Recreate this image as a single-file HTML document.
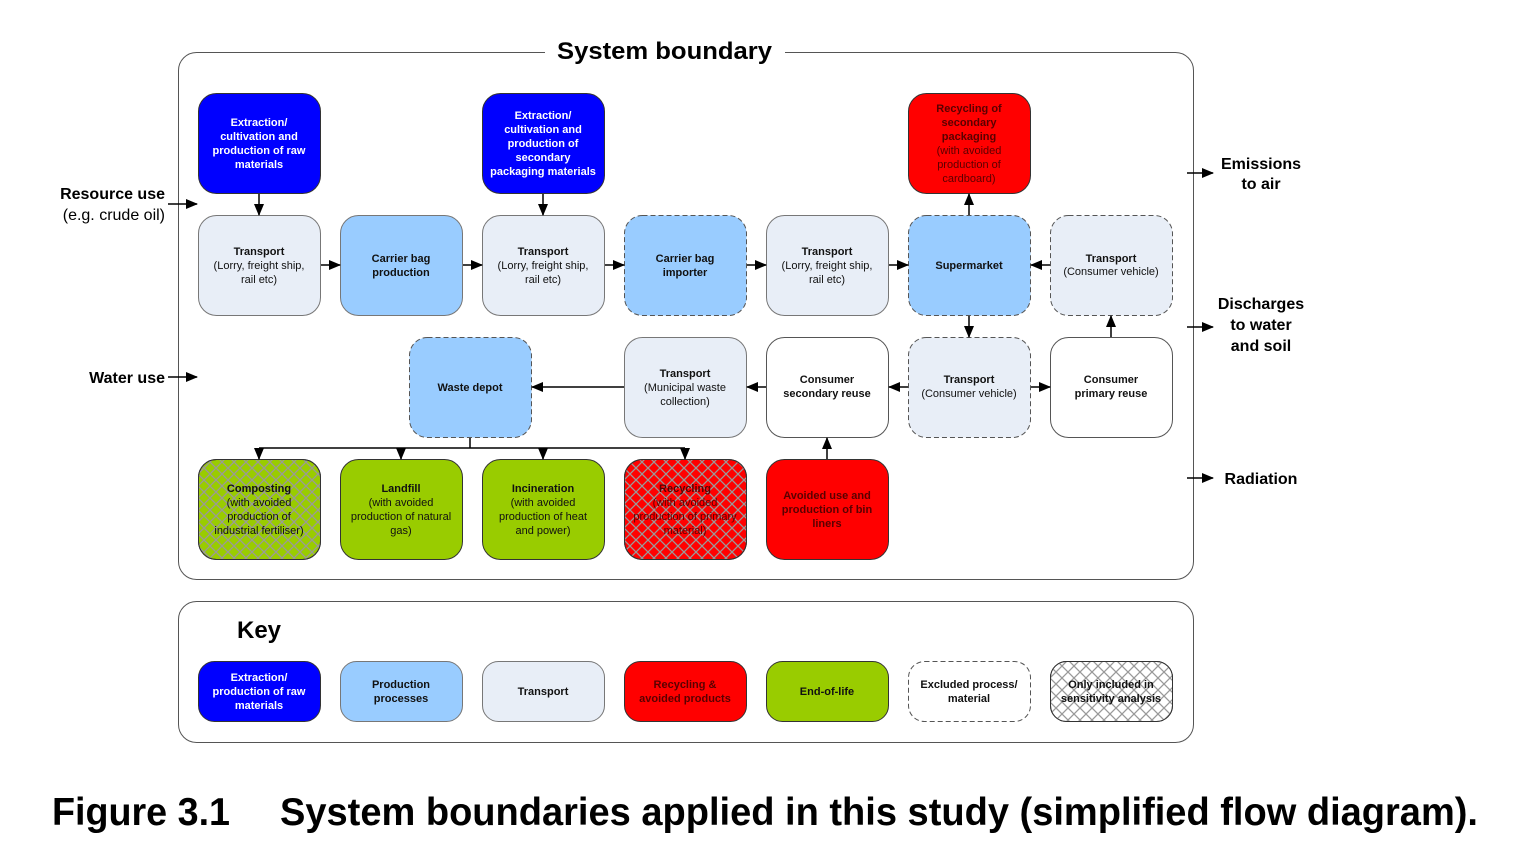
<!DOCTYPE html>
<html><head><meta charset="utf-8"><style>
html,body{margin:0;padding:0;background:#fff;}
svg{display:block;font-family:"Liberation Sans",Arial,sans-serif;}
.b{font-weight:bold;}
</style></head><body>
<svg width="1527" height="864" viewBox="0 0 1527 864" xmlns="http://www.w3.org/2000/svg">
<defs>
<pattern id="hatch" width="12" height="12" patternUnits="userSpaceOnUse">
<path d="M0,0 L12,12 M12,0 L0,12" stroke="#999" stroke-width="1.3"/>
</pattern>
<marker id="ah" markerWidth="12" markerHeight="12" refX="11" refY="6" orient="auto" markerUnits="userSpaceOnUse">
<path d="M0,1 L12,6 L0,11 z" fill="#000"/>
</marker>
</defs>

<!-- boundary -->
<rect x="178.5" y="52.5" width="1015" height="527" rx="18" fill="none" stroke="#555" stroke-width="1"/>
<rect x="545" y="36" width="240" height="30" fill="#fff"/>
<text x="557" y="59" font-size="24" class="b" textLength="215" lengthAdjust="spacingAndGlyphs">System boundary</text>

<!-- key box -->
<rect x="178.5" y="601.5" width="1015" height="141" rx="18" fill="none" stroke="#555" stroke-width="1"/>
<text x="259" y="638" text-anchor="middle" font-size="24" class="b">Key</text>

<g stroke="#333" stroke-width="1">
<rect x="198.5" y="93.5" width="122" height="100" rx="18" fill="#0000ff"/>
<rect x="482.5" y="93.5" width="122" height="100" rx="18" fill="#0000ff"/>
<rect x="908.5" y="93.5" width="122" height="100" rx="18" fill="#ff0000"/>
<rect x="198.5" y="215.5" width="122" height="100" rx="18" fill="#e8eef7" stroke="#777"/>
<rect x="340.5" y="215.5" width="122" height="100" rx="18" fill="#99ccff" stroke="#777"/>
<rect x="482.5" y="215.5" width="122" height="100" rx="18" fill="#e8eef7" stroke="#777"/>
<rect x="624.5" y="215.5" width="122" height="100" rx="18" fill="#99ccff" stroke="#555" stroke-dasharray="5,3"/>
<rect x="766.5" y="215.5" width="122" height="100" rx="18" fill="#e8eef7" stroke="#777"/>
<rect x="908.5" y="215.5" width="122" height="100" rx="18" fill="#99ccff" stroke="#555" stroke-dasharray="5,3"/>
<rect x="1050.5" y="215.5" width="122" height="100" rx="18" fill="#e8eef7" stroke="#555" stroke-dasharray="5,3"/>
<rect x="409.5" y="337.5" width="122" height="100" rx="18" fill="#99ccff" stroke="#555" stroke-dasharray="5,3"/>
<rect x="624.5" y="337.5" width="122" height="100" rx="18" fill="#e8eef7" stroke="#777"/>
<rect x="766.5" y="337.5" width="122" height="100" rx="18" fill="#fff" stroke="#555"/>
<rect x="908.5" y="337.5" width="122" height="100" rx="18" fill="#e8eef7" stroke="#555" stroke-dasharray="5,3"/>
<rect x="1050.5" y="337.5" width="122" height="100" rx="18" fill="#fff" stroke="#555"/>
<rect x="198.5" y="459.5" width="122" height="100" rx="18" fill="#99cc00"/>
<rect x="198.5" y="459.5" width="122" height="100" rx="18" fill="url(#hatch)"/>
<rect x="340.5" y="459.5" width="122" height="100" rx="18" fill="#99cc00"/>
<rect x="482.5" y="459.5" width="122" height="100" rx="18" fill="#99cc00"/>
<rect x="624.5" y="459.5" width="122" height="100" rx="18" fill="#ff0000"/>
<rect x="624.5" y="459.5" width="122" height="100" rx="18" fill="url(#hatch)"/>
<rect x="766.5" y="459.5" width="122" height="100" rx="18" fill="#ff0000"/>
<rect x="198.5" y="661.5" width="122" height="60" rx="16" fill="#0000ff"/>
<rect x="340.5" y="661.5" width="122" height="60" rx="16" fill="#99ccff" stroke="#777"/>
<rect x="482.5" y="661.5" width="122" height="60" rx="16" fill="#e8eef7" stroke="#777"/>
<rect x="624.5" y="661.5" width="122" height="60" rx="16" fill="#ff0000"/>
<rect x="766.5" y="661.5" width="122" height="60" rx="16" fill="#99cc00"/>
<rect x="908.5" y="661.5" width="122" height="60" rx="16" fill="#fff" stroke="#555" stroke-dasharray="5,3"/>
<rect x="1050.5" y="661.5" width="122" height="60" rx="16" fill="#fff"/>
<rect x="1050.5" y="661.5" width="122" height="60" rx="16" fill="url(#hatch)"/>
</g>

<g stroke="#000" stroke-width="1.5" fill="none" marker-end="url(#ah)">
<line x1="259" y1="194" x2="259" y2="215"/>
<line x1="543" y1="194" x2="543" y2="215"/>
<line x1="321" y1="265" x2="340" y2="265"/>
<line x1="463" y1="265" x2="482" y2="265"/>
<line x1="605" y1="265" x2="624" y2="265"/>
<line x1="747" y1="265" x2="766" y2="265"/>
<line x1="889" y1="265" x2="908" y2="265"/>
<line x1="1050" y1="265" x2="1031" y2="265"/>
<line x1="969" y1="215" x2="969" y2="194"/>
<line x1="969" y1="316" x2="969" y2="337"/>
<line x1="908" y1="387" x2="889" y2="387"/>
<line x1="1031" y1="387" x2="1050" y2="387"/>
<line x1="1111" y1="337" x2="1111" y2="316"/>
<line x1="766" y1="387" x2="747" y2="387"/>
<line x1="624" y1="387" x2="532" y2="387"/>
<line x1="827" y1="459" x2="827" y2="438"/>
<line x1="259" y1="448" x2="259" y2="459"/>
<line x1="401" y1="448" x2="401" y2="459"/>
<line x1="543" y1="448" x2="543" y2="459"/>
<line x1="685" y1="448" x2="685" y2="459"/>
<line x1="168" y1="204" x2="197" y2="204"/>
<line x1="168" y1="377" x2="197" y2="377"/>
<line x1="1187" y1="173" x2="1213" y2="173"/>
<line x1="1187" y1="327" x2="1213" y2="327"/>
<line x1="1187" y1="478" x2="1213" y2="478"/>
</g>
<g stroke="#000" stroke-width="1.5">
<line x1="470" y1="438" x2="470" y2="448"/>
<line x1="259" y1="448" x2="685" y2="448"/>
</g>

<g font-size="11" text-anchor="middle">
<g fill="#fff" class="b">
<text x="259" y="126">Extraction/</text><text x="259" y="140">cultivation and</text><text x="259" y="154">production of raw</text><text x="259" y="168">materials</text>
<text x="543" y="119">Extraction/</text><text x="543" y="133">cultivation and</text><text x="543" y="147">production of</text><text x="543" y="161">secondary</text><text x="543" y="175">packaging materials</text>
<text x="259" y="681">Extraction/</text><text x="259" y="695">production of raw</text><text x="259" y="709">materials</text>
</g>
<g fill="#5a0000">
<text x="969" y="112" class="b">Recycling of</text><text x="969" y="126" class="b">secondary</text><text x="969" y="140" class="b">packaging</text><text x="969" y="154">(with avoided</text><text x="969" y="168">production of</text><text x="969" y="182">cardboard)</text>
<text x="827" y="499" class="b">Avoided use and</text><text x="827" y="513" class="b">production of bin</text><text x="827" y="527" class="b">liners</text>
<text x="685" y="492" class="b">Recycling</text><text x="685" y="506">(with avoided</text><text x="685" y="520">production of primary</text><text x="685" y="534">material)</text>
<text x="685" y="688" class="b">Recycling &amp;</text><text x="685" y="702" class="b">avoided products</text>
</g>
<g fill="#111">
<text x="259" y="255" class="b">Transport</text><text x="259" y="269">(Lorry, freight ship,</text><text x="259" y="283">rail etc)</text>
<text x="401" y="262" class="b">Carrier bag</text><text x="401" y="276" class="b">production</text>
<text x="543" y="255" class="b">Transport</text><text x="543" y="269">(Lorry, freight ship,</text><text x="543" y="283">rail etc)</text>
<text x="685" y="262" class="b">Carrier bag</text><text x="685" y="276" class="b">importer</text>
<text x="827" y="255" class="b">Transport</text><text x="827" y="269">(Lorry, freight ship,</text><text x="827" y="283">rail etc)</text>
<text x="969" y="269" class="b">Supermarket</text>
<text x="1111" y="262" class="b">Transport</text><text x="1111" y="275">(Consumer vehicle)</text>
<text x="470" y="391" class="b">Waste depot</text>
<text x="685" y="377" class="b">Transport</text><text x="685" y="391">(Municipal waste</text><text x="685" y="405">collection)</text>
<text x="827" y="383" class="b">Consumer</text><text x="827" y="397" class="b">secondary reuse</text>
<text x="969" y="383" class="b">Transport</text><text x="969" y="397">(Consumer vehicle)</text>
<text x="1111" y="383" class="b">Consumer</text><text x="1111" y="397" class="b">primary reuse</text>
<text x="259" y="492" class="b">Composting</text><text x="259" y="506">(with avoided</text><text x="259" y="520">production of</text><text x="259" y="534">industrial fertiliser)</text>
<text x="401" y="492" class="b">Landfill</text><text x="401" y="506">(with avoided</text><text x="401" y="520">production of natural</text><text x="401" y="534">gas)</text>
<text x="543" y="492" class="b">Incineration</text><text x="543" y="506">(with avoided</text><text x="543" y="520">production of heat</text><text x="543" y="534">and power)</text>
<text x="401" y="688" class="b">Production</text><text x="401" y="702" class="b">processes</text>
<text x="543" y="695" class="b">Transport</text>
<text x="827" y="695" class="b">End-of-life</text>
<text x="969" y="688" class="b">Excluded process/</text><text x="969" y="702" class="b">material</text>
<text x="1111" y="688" class="b">Only included in</text><text x="1111" y="702" class="b">sensitivity analysis</text>
</g>
</g>

<g font-size="16" fill="#000">
<text x="165" y="199" text-anchor="end" class="b">Resource use</text>
<text x="165" y="220" text-anchor="end">(e.g. crude oil)</text>
<text x="165" y="383" text-anchor="end" class="b">Water use</text>
<text x="1261" y="169" text-anchor="middle" class="b">Emissions</text>
<text x="1261" y="189" text-anchor="middle" class="b">to air</text>
<text x="1261" y="309" text-anchor="middle" class="b">Discharges</text>
<text x="1261" y="330" text-anchor="middle" class="b">to water</text>
<text x="1261" y="351" text-anchor="middle" class="b">and soil</text>
<text x="1261" y="484" text-anchor="middle" class="b">Radiation</text>
</g>

<text x="52" y="825" font-size="39" class="b" textLength="178" lengthAdjust="spacingAndGlyphs">Figure 3.1</text>
<text x="280" y="825" font-size="39" class="b" textLength="1198" lengthAdjust="spacingAndGlyphs">System boundaries applied in this study (simplified flow diagram).</text>
</svg>
</body></html>
